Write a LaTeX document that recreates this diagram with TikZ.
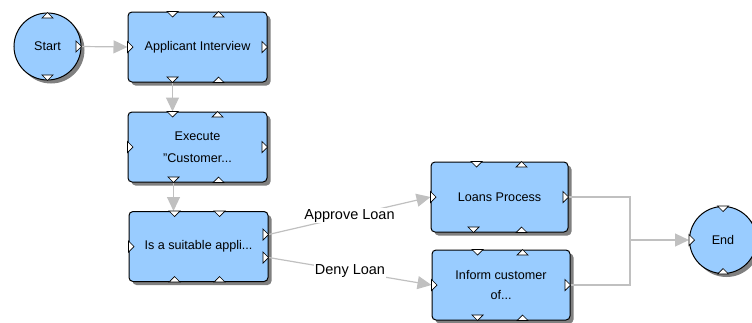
\documentclass[tikz,border=0pt]{standalone}
\usepackage{fontspec}
\setmainfont{Liberation Sans}
\usetikzlibrary{shadows,arrows.meta,calc}
\definecolor{boxblue}{RGB}{153,204,255}
\definecolor{conngray}{RGB}{192,192,192}
\definecolor{shadowgray}{RGB}{128,128,128}
\begin{document}
\begin{tikzpicture}[x=1pt,y=-1pt,
 shadowed/.style={drop shadow={shadow xshift=3.5pt,shadow yshift=-3.5pt,fill=shadowgray,opacity=1}},
 task/.style={shadowed, draw=black, line width=1pt, fill=boxblue, rounded corners=4pt,
   minimum width=139pt, minimum height=70pt, inner sep=0pt, align=center,
   font=\fontsize{12.6}{22}\selectfont},
 event/.style={shadowed, circle, draw=black, line width=1pt, fill=boxblue,
   minimum size=67pt, inner sep=0pt, font=\fontsize{12.6}{14}\selectfont},
 conn/.style={draw=conngray, line width=1.2pt},
 arr/.style={-{Triangle[length=14pt,width=13pt]}},
 lbl/.style={fill=white, inner sep=1pt, text=black, font=\fontsize{14.5}{16}\selectfont},
 port/.style={draw=black, fill=white, line width=0.7pt},
 pics/tdb/.style={code={\path[port] (-5.5,0) -- (5.5,0) -- (0,5.5) -- cycle;}},
 pics/tda/.style={code={\path[port] (-5.5,-5.5) -- (5.5,-5.5) -- (0,0) -- cycle;}},
 pics/tua/.style={code={\path[port] (0,0) -- (-5.5,5.5) -- (5.5,5.5) -- cycle;}},
 pics/tub/.style={code={\path[port] (-5.5,0) -- (5.5,0) -- (0,-5.5) -- cycle;}},
 pics/trb/.style={code={\path[port] (0,-5.5) -- (0,5.5) -- (5.5,0) -- cycle;}},
 pics/tra/.style={code={\path[port] (-5.5,-5.5) -- (-5.5,5.5) -- (0,0) -- cycle;}},
]
\useasboundingbox (0,0) rectangle (752,322);
\clip (0,0) rectangle (752,322);

% nodes
\node[event] (start) at (47.5,46.5) {Start};
\node[task] (ai) at (197.5,47) {Applicant Interview};
\node[task] (ex) at (197.5,147) {Execute\\"Customer...};
\node[task] (is) at (198.5,246.5) {Is a suitable appli...};
\node[task, minimum width=137pt] (lp) at (499.5,197) {Loans Process};
\node[task, minimum width=138pt, font=\fontsize{12.6}{20}\selectfont] (ic) at (501,285) {Inform customer\\of...};
\node[event] (end) at (723,240) {End};

% connectors
\coordinate (aib) at ([xshift=45pt]ai.south west);
\coordinate (exb) at ([xshift=46pt]ex.south west);
\coordinate (isr1) at ([yshift=12pt]is.east);
\coordinate (isr2) at ([yshift=-11pt]is.east);
\coordinate (jn) at (630,240);
\draw[conn,arr] (start.east) -- (ai.west);
\draw[conn,arr] (aib) -- (aib |- ex.north);
\draw[conn,arr] (exb) -- (exb |- is.north);
\draw[conn,arr] (isr1) -- node[lbl]{Approve Loan} (lp.west);
\draw[conn,arr] (isr2) -- node[lbl]{Deny Loan} (ic.west);
\draw[conn] (lp.east) -| (jn);
\draw[conn] (ic.east) -| (jn);
\draw[conn,arr] (jn) -- (end.west);

% ports
\pic at (start.north) {tua};
\pic at (start.south) {tda};
\pic at (start.east) {tra};

\pic at ([xshift=45pt]ai.north west) {tdb};
\pic at ([xshift=91pt]ai.north west) {tua};
\pic at ([xshift=45pt]ai.south west) {tda};
\pic at ([xshift=91pt]ai.south west) {tub};
\pic at (ai.west) {trb};
\pic at (ai.east) {tra};

\pic at ([xshift=45pt]ex.north west) {tdb};
\pic at ([xshift=90pt]ex.north west) {tua};
\pic at ([xshift=46pt]ex.south west) {tda};
\pic at ([xshift=91pt]ex.south west) {tub};
\pic at (ex.west) {trb};
\pic at (ex.east) {tra};

\pic at ([xshift=46pt]is.north west) {tdb};
\pic at ([xshift=91pt]is.north west) {tdb};
\pic at ([xshift=46pt]is.south west) {tub};
\pic at ([xshift=91pt]is.south west) {tub};
\pic at (is.west) {trb};
\pic at (isr1) {tra};
\pic at (isr2) {tra};

\pic at ([xshift=46pt]lp.north west) {tdb};
\pic at ([xshift=91pt]lp.north west) {tua};
\pic at ([xshift=43pt]lp.south west) {tda};
\pic at ([xshift=91pt]lp.south west) {tub};
\pic at (lp.west) {trb};
\pic at (lp.east) {tra};

\pic at ([xshift=46pt]ic.north west) {tdb};
\pic at ([xshift=91pt]ic.north west) {tua};
\pic at ([xshift=46pt]ic.south west) {tda};
\pic at ([xshift=91pt]ic.south west) {tub};
\pic at (ic.west) {trb};
\pic at (ic.east) {tra};

\pic at (end.north) {tdb};
\pic at (end.west) {trb};
\pic at (end.south) {tub};
\end{tikzpicture}
\end{document}
